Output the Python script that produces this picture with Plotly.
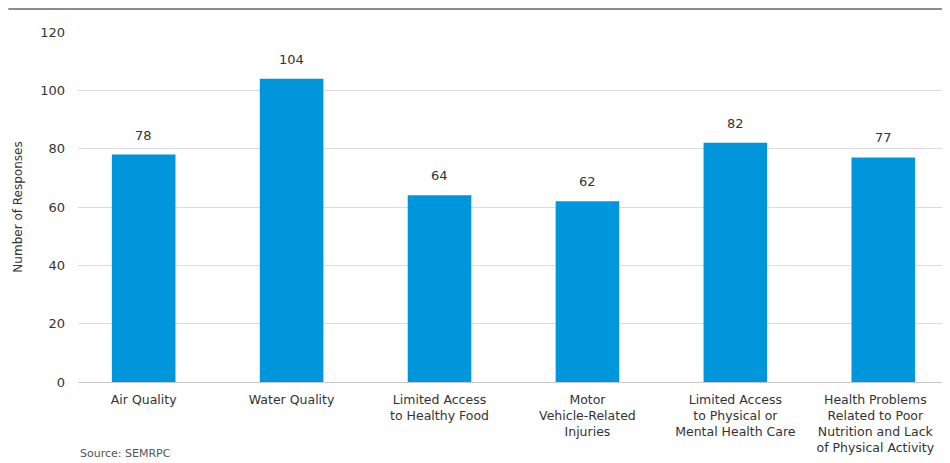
import plotly.graph_objects as go

categories = [
    "Air Quality",
    "Water Quality",
    "Limited Access<br>to Healthy Food",
    "Motor<br>Vehicle-Related<br>Injuries",
    "Limited Access<br>to Physical or<br>Mental Health Care",
    "Health Problems<br>Related to Poor<br>Nutrition and Lack<br>of Physical Activity",
]
responses = [78, 104, 64, 62, 82, 77]
y_ticks = [0, 20, 40, 60, 80, 100, 120]

FONT = "'DejaVu Sans', sans-serif"
TXT = "#333333"
W, H = 950, 463
ML, MR, MT, MB = 70, 8, 24, 89

# last label is nudged left (trailing non-breaking spaces) so it is not clipped at the page edge
PAD = "\u00a0" * 4
tick_text = categories[:-1] + ["<br>".join(line + PAD for line in categories[-1].split("<br>"))]

fig = go.Figure(
    go.Bar(
        x=categories,
        y=responses,
        marker=dict(color="#0096DB", line=dict(width=0)),
        width=0.43,
        hoverinfo="y",
    )
)

annotations = [
    dict(
        x=c, y=v, xref="x", yref="y", text=str(v), showarrow=False,
        yanchor="bottom", yshift=10,
        font=dict(family=FONT, size=13, color=TXT),
    )
    for c, v in zip(categories, responses)
]
annotations.append(
    dict(
        text="Source: SEMRPC", xref="paper", yref="paper",
        x=0.0, y=-(437 - (H - MB)) / (H - MT - MB),
        xanchor="left", yanchor="top", showarrow=False,
        font=dict(family=FONT, size=11, color="#555555"),
    )
)

fig.update_layout(
    width=W,
    height=H,
    margin=dict(l=ML, r=MR, t=MT, b=MB),
    paper_bgcolor="white",
    plot_bgcolor="white",
    showlegend=False,
    font=dict(family=FONT, size=13, color=TXT),
    xaxis=dict(
        range=[-0.444, 5.424],
        tickvals=categories,
        ticktext=tick_text,
        showgrid=False,
        showline=False,
        ticks="",
        ticklabelstandoff=8,
        tickfont=dict(family=FONT, size=12.5, color=TXT),
        fixedrange=True,
    ),
    yaxis=dict(
        range=[0, 120],
        tickvals=y_ticks,
        showgrid=True,
        gridcolor="#dcdcdc",
        gridwidth=1,
        zeroline=True,
        zerolinecolor="#c8c8c8",
        zerolinewidth=1,
        ticks="",
        ticklabelstandoff=12,
        tickfont=dict(family=FONT, size=13, color=TXT),
        title=dict(text="Number of Responses", font=dict(family=FONT, size=12, color=TXT), standoff=14),
        fixedrange=True,
    ),
    shapes=[
        dict(
            type="line", xref="paper", yref="paper",
            x0=-ML / (W - ML - MR), x1=1 + MR / (W - ML - MR),
            y0=1 + (MT - 0.5) / (H - MT - MB), y1=1 + (MT - 0.5) / (H - MT - MB),
            line=dict(color="#8c8c8c", width=3),
        )
    ],
    annotations=annotations,
)

fig.write_html("out.html")
